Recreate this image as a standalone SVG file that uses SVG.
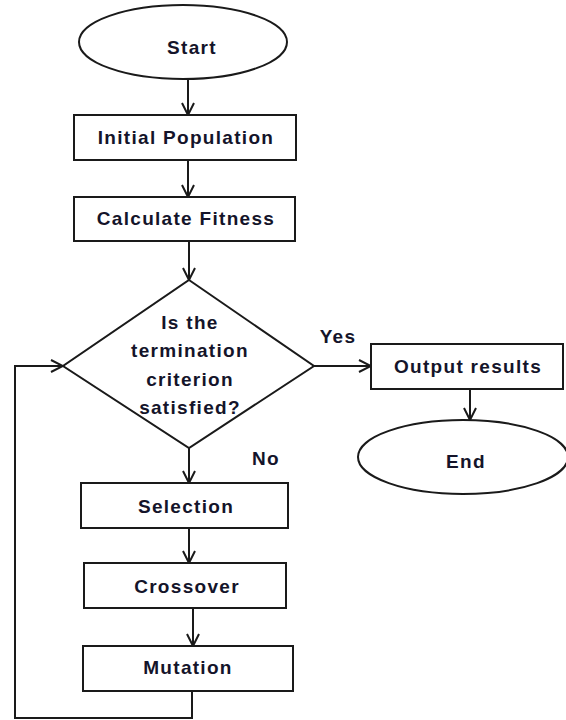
<svg xmlns="http://www.w3.org/2000/svg" width="566" height="720" viewBox="0 0 566 720">
<style>
.shape{fill:#fff;stroke:#1a1a1a;stroke-width:2}
.edge{fill:none;stroke:#1a1a1a;stroke-width:2}
.t{font-family:"Liberation Sans",Arial,sans-serif;font-weight:bold;font-size:19px;letter-spacing:1.3px;fill:#14142a;text-anchor:middle}
</style>
<defs>
<marker id="arr" viewBox="0 0 14 14" refX="13" refY="7" markerWidth="14" markerHeight="14" markerUnits="userSpaceOnUse" orient="auto">
<path d="M1,1 L13,7 L1,13" fill="none" stroke="#1a1a1a" stroke-width="2"/>
</marker>
</defs>
<rect width="566" height="720" fill="#fff"/>
<g id="connectors">
<line class="edge" x1="188" y1="80" x2="188" y2="115" marker-end="url(#arr)"/>
<line class="edge" x1="188" y1="160" x2="188" y2="197" marker-end="url(#arr)"/>
<line class="edge" x1="189" y1="241" x2="189" y2="280" marker-end="url(#arr)"/>
<line class="edge" x1="314" y1="366" x2="371" y2="366" marker-end="url(#arr)"/>
<line class="edge" x1="470" y1="389" x2="470" y2="420" marker-end="url(#arr)"/>
<line class="edge" x1="189" y1="448" x2="189" y2="483" marker-end="url(#arr)"/>
<line class="edge" x1="189" y1="528" x2="189" y2="563" marker-end="url(#arr)"/>
<line class="edge" x1="193" y1="608" x2="193" y2="646" marker-end="url(#arr)"/>
<polyline class="edge" points="192,691 192,718 15,718 15,366 63,366" marker-end="url(#arr)"/>
<text class="t" x="338" y="343">Yes</text>
<text class="t" x="266" y="465">No</text>
</g>
<g id="start">
<ellipse class="shape" cx="183" cy="42" rx="104" ry="37"/>
<text class="t" x="192" y="54">Start</text>
</g>
<g id="initial">
<rect class="shape" x="74" y="115" width="222" height="45"/>
<text class="t" x="186" y="144">Initial Population</text>
</g>
<g id="fitness">
<rect class="shape" x="74" y="197" width="221" height="44"/>
<text class="t" x="186" y="225">Calculate Fitness</text>
</g>
<g id="decision">
<polygon class="shape" points="189,280 314,366 189,448 63,366"/>
<text class="t" x="190" y="329">Is the</text>
<text class="t" x="190" y="357">termination</text>
<text class="t" x="190" y="386">criterion</text>
<text class="t" x="190" y="414">satisfied?</text>
</g>
<g id="output">
<rect class="shape" x="371" y="344" width="192" height="45"/>
<text class="t" x="468" y="373">Output results</text>
</g>
<g id="end">
<ellipse class="shape" cx="463" cy="457" rx="105" ry="37"/>
<text class="t" x="466" y="468">End</text>
</g>
<g id="selection">
<rect class="shape" x="81" y="483" width="207" height="45"/>
<text class="t" x="186" y="513">Selection</text>
</g>
<g id="crossover">
<rect class="shape" x="84" y="563" width="202" height="45"/>
<text class="t" x="187" y="593">Crossover</text>
</g>
<g id="mutation">
<rect class="shape" x="83" y="646" width="210" height="45"/>
<text class="t" x="188" y="674">Mutation</text>
</g>
</svg>
